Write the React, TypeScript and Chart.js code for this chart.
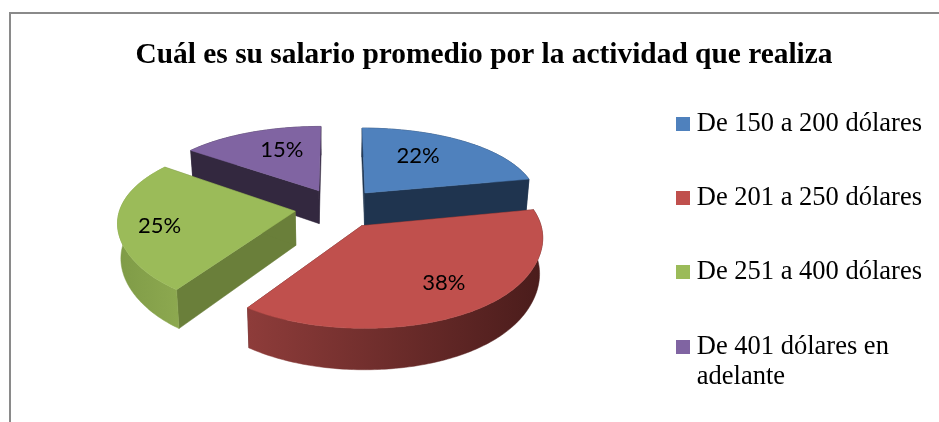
import React, { useEffect, useRef } from "react";
import { Chart, registerables } from "chart.js";

Chart.register(...registerables);

const chartTitle = "Cuál es su salario promedio por la actividad que realiza";
const categories = ["De 150 a 200 dólares", "De 201 a 250 dólares", "De 251 a 400 dólares", "De 401 dólares en adelante"];
const legendLines: (string | string[])[] = ["De 150 a 200 dólares", "De 201 a 250 dólares", "De 251 a 400 dólares", ["De 401 dólares en", "adelante"]];
const values = [22, 38, 25, 15];
const topColors = ["#4F81BD", "#C0504D", "#9BBB59", "#8064A2"];
const sideColors = ["#1F344F", "#4A1C1B", "#6A7F3A", "#33283F"];
const rimLeft = ["#1F344F", "#8E3C3A", "#7F9B47", "#33283F"];
const rimRight = ["#1F344F", "#4A1C1B", "#8CA84F", "#33283F"];
const labelRadius = [0.63, 0.71, 0.77, 0.64];
const labelTurn = [-7, -3.6, -4, 5];

const view = { cx: 338, cy: 208, tilt: 0.468, depthY: 950, nearLimit: 120, depthX: 1500, depthZ: 1180, radius: 175, height: 34 };
const legendShift = 41;

const swatch = (color: string) => {
  const c = document.createElement("canvas");
  c.width = 14;
  c.height = 14;
  const g = c.getContext("2d")!;
  g.fillStyle = color;
  g.fillRect(0, 0, 14, 14);
  return c;
};

const pie3d = {
  id: "pie3d",
  afterLayout(chart: any) {
    chart.legend.top += legendShift;
    chart.legend.bottom += legendShift;
  },
  beforeDatasetDraw(chart: any) {
    const ctx: CanvasRenderingContext2D = chart.ctx;
    const meta = chart.getDatasetMeta(0);
    const perspectiveY = (v: number) => {
      const s = 1 - v / view.depthY;
      if (v <= view.nearLimit) return (view.tilt * v) / s;
      const s0 = 1 - view.nearLimit / view.depthY;
      return (view.tilt * view.nearLimit) / s0 + ((view.tilt / (s0 * s0)) * (v - view.nearLimit));
    };
    const project = (u: number, v: number, z: number) => {
      const sx = 1 / (1 - v / view.depthX);
      const sz = 1 / (1 - v / view.depthZ);
      return {
        x: view.cx + u * sx * (1 - z * 0.00045),
        y: view.cy + perspectiveY(v) + z * sz,
      };
    };
    const slices = meta.data.map((el: any, i: number) => {
      const k = view.radius / el.outerRadius;
      const mid = (el.startAngle + el.endAngle) / 2;
      const off = el.options.offset * k;
      return { i, el, k, mid, ox: Math.cos(mid) * off, oy: Math.sin(mid) * off };
    });
    const drawOrder = [...slices].sort((a: any, b: any) => a.oy - b.oy);
    for (const s of drawOrder) {
      const { el, ox, oy, i } = s;
      const R = el.outerRadius * s.k;
      const pts: { u: number; v: number }[] = [];
      const n = Math.max(8, Math.ceil(((el.endAngle - el.startAngle) * 180) / Math.PI));
      for (let j = 0; j <= n; j++) {
        const a = el.startAngle + ((el.endAngle - el.startAngle) * j) / n;
        pts.push({ u: ox + R * Math.cos(a), v: oy + R * Math.sin(a) });
      }
      const poly = (list: { x: number; y: number }[], fill: any) => {
        ctx.beginPath();
        list.forEach((p, idx) => (idx ? ctx.lineTo(p.x, p.y) : ctx.moveTo(p.x, p.y)));
        ctx.closePath();
        ctx.fillStyle = fill;
        ctx.strokeStyle = fill;
        ctx.lineWidth = 0.5;
        ctx.fill();
        ctx.stroke();
      };
      const apex = { u: ox, v: oy };
      const wall = (p: { u: number; v: number }) =>
        poly(
          [
            project(apex.u, apex.v, 0),
            project(p.u, p.v, 0),
            project(p.u, p.v, view.height),
            project(apex.u, apex.v, view.height),
          ],
          sideColors[i]
        );
      wall(pts[0]);
      wall(pts[pts.length - 1]);
      const rimTop = pts.map((p) => project(p.u, p.v, 0));
      const rimBottom = pts.map((p) => project(p.u, p.v, view.height)).reverse();
      const xs = rimTop.map((p) => p.x);
      const grad = ctx.createLinearGradient(Math.min(...xs), 0, Math.max(...xs), 0);
      grad.addColorStop(0, rimLeft[i]);
      grad.addColorStop(1, rimRight[i]);
      poly([...rimTop, ...rimBottom], grad);
      poly([project(apex.u, apex.v, 0), ...rimTop], topColors[i]);
    }
    const total = values.reduce((a, b) => a + b, 0);
    ctx.font = "22px Lato";
    ctx.fillStyle = "#000";
    ctx.textAlign = "center";
    ctx.textBaseline = "middle";
    for (const s of slices) {
      const a = s.mid + (labelTurn[s.i] * Math.PI) / 180;
      const r = s.el.outerRadius * s.k * labelRadius[s.i];
      const p = project(s.ox + r * Math.cos(a), s.oy + r * Math.sin(a), 0);
      ctx.fillText(`${Math.round((values[s.i] / total) * 100)}%`, p.x, p.y);
    }
    return false;
  },
};

const frame = {
  id: "frame",
  beforeDraw(chart: any) {
    const ctx: CanvasRenderingContext2D = chart.ctx;
    ctx.save();
    ctx.strokeStyle = "#8A8A8A";
    ctx.lineWidth = 2;
    ctx.beginPath();
    ctx.moveTo(10, 422);
    ctx.lineTo(10, 13);
    ctx.lineTo(939, 13);
    ctx.stroke();
    ctx.restore();
  },
};

export default function App() {
  const ref = useRef<HTMLCanvasElement>(null);
  useEffect(() => {
    document.body.style.margin = "0";
    const swatches = topColors.map(swatch);
    const chart = new Chart(ref.current!, {
      type: "pie",
      data: {
        labels: categories,
        datasets: [{ data: values, backgroundColor: topColors, borderWidth: 0, offset: 34 }],
      },
      options: {
        animation: false,
        responsive: false,
        layout: { padding: { left: 36, right: 7 } },
        plugins: {
          title: {
            display: true,
            text: chartTitle,
            color: "#000",
            font: { family: "'Liberation Serif'", size: 29.4, weight: "bold" },
            padding: { top: 38, bottom: 39 },
          },
          tooltip: { enabled: false },
          legend: {
            position: "right",
            labels: {
              boxWidth: 1,
              boxHeight: 14,
              usePointStyle: true,
              pointStyleWidth: 1,
              padding: 47.8,
              color: "#000",
              font: { family: "'Liberation Serif'", size: 26.5, lineHeight: 1.13 },
              generateLabels: () =>
                legendLines.map((text, i) => ({
                  text,
                  fillStyle: topColors[i],
                  strokeStyle: topColors[i],
                  lineWidth: 0,
                  pointStyle: swatches[i],
                  index: i,
                })) as any,
            },
          },
        },
      } as any,
      plugins: [frame, pie3d],
    });
    return () => chart.destroy();
  }, []);
  return <canvas ref={ref} width={939} height={422} style={{ display: "block" }} />;
}
